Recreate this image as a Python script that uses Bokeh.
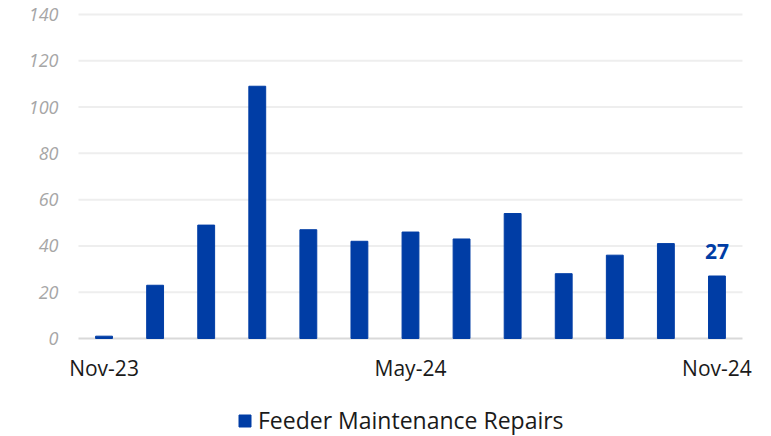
from bokeh.plotting import figure
from bokeh.models import Legend, LegendItem, ColumnDataSource, Range1d
from bokeh.core.properties import value
from bokeh.embed import file_html
from bokeh.resources import INLINE

months = ["Nov-23", "Dec-23", "Jan-24", "Feb-24", "Mar-24", "Apr-24", "May-24",
          "Jun-24", "Jul-24", "Aug-24", "Sep-24", "Oct-24", "Nov-24"]
repairs = [1, 23, 49, 109, 47, 42, 46, 43, 54, 28, 36, 41, 27]
y_ticks = [0, 20, 40, 60, 80, 100, 120, 140]
shown_idx = [0, 6, 12]
shown_labels = ["Nov-23", "May-24", "Nov-24"]

BLUE = "#003DA5"
FONT = "Open Sans"

n = len(months)
xs = list(range(n))
src = ColumnDataSource(dict(x=xs, y=repairs, m=months))

# Plot area of the chart spans categories -0.5 .. n-0.5 and values 0 .. 140; the frame
# is widened on all sides so that labels / legend drawn as glyphs are not clipped.
x_lo, x_hi = -0.5, n - 0.5
p = figure(width=771, height=436, output_backend="svg", toolbar_location=None,
           x_range=Range1d(x_lo - 1.527, x_hi + 0.568), y_range=Range1d(-42.35, 146.05),
           min_border_left=0, min_border_right=0, min_border_top=0, min_border_bottom=0)
p.outline_line_color = None
p.xaxis.visible = False
p.yaxis.visible = False
p.grid.visible = False

# horizontal gridlines
p.segment(x0=[x_lo] * len(y_ticks[1:]), x1=[x_hi] * len(y_ticks[1:]),
          y0=y_ticks[1:], y1=y_ticks[1:], line_color="#eeeeee", line_width=2)
# baseline
p.segment(x0=[x_lo], x1=[x_hi], y0=[0], y1=[0], line_color="#d9d9d9", line_width=2)

r = p.vbar(x="x", top="y", width=0.33, source=src, color=BLUE)

# y tick labels
p.text(x=[x_lo] * len(y_ticks), y=y_ticks, text=[str(t) for t in y_ticks],
       text_align="right", text_baseline="middle", x_offset=-20,
       text_color="#a6a6a6", text_font=value(FONT), text_font_size="18px",
       text_font_style="italic")

# category labels under the baseline
p.text(x=shown_idx, y=[0] * len(shown_idx), text=shown_labels, text_align="center",
       text_baseline="middle", y_offset=30, text_color="#1a1a1a", text_font=value(FONT),
       text_font_size="21px")

# data label on the last bar
last = n - 1
p.text(x=[last], y=[repairs[last]], text=[str(repairs[last])], text_align="center",
       text_baseline="middle", y_offset=-25, text_color=BLUE, text_font=value(FONT),
       text_font_size="21px", text_font_style="bold")

legend = Legend(items=[LegendItem(label="Feeder Maintenance Repairs", renderers=[r])],
                orientation="horizontal", location=(237, 0),
                label_text_font=FONT, label_text_font_size="23px", label_text_color="#1a1a1a",
                glyph_width=15, glyph_height=15, border_line_color=None,
                background_fill_alpha=0, margin=0, padding=0, label_standoff=6)
p.add_layout(legend, "center")

open("out.html", "w").write(file_html(p, INLINE))
